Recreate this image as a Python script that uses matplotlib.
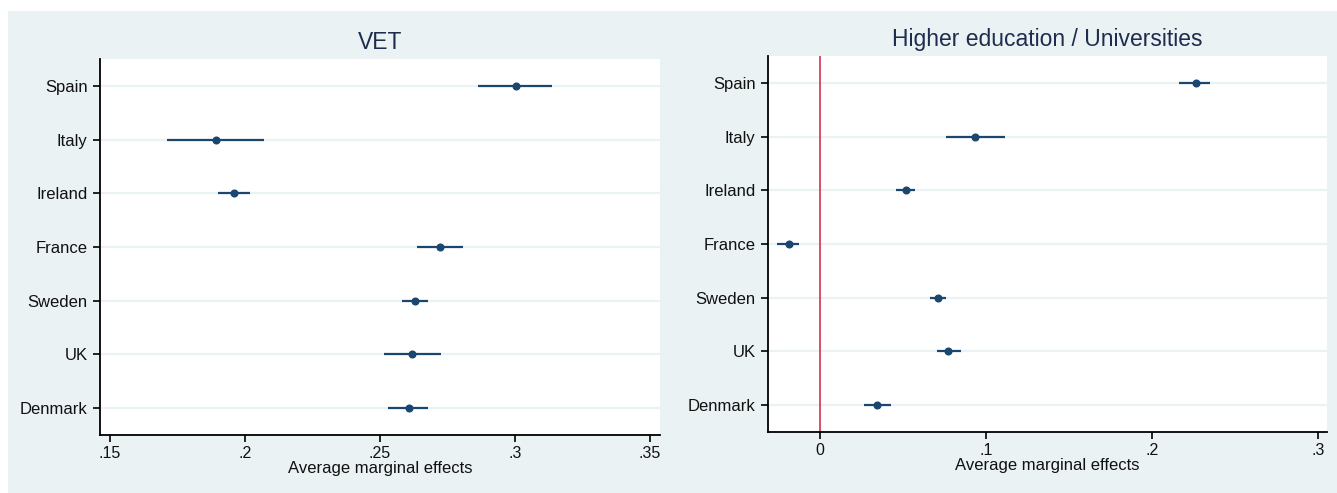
import matplotlib
matplotlib.use("Agg")
import matplotlib.pyplot as plt
from matplotlib.patches import Rectangle
import numpy as np

plt.rcParams['font.family'] = ['Liberation Sans', 'DejaVu Sans']

countries = ["Spain", "Italy", "Ireland", "France", "Sweden", "UK", "Denmark"]

vet_est = [0.3004, 0.1893, 0.1959, 0.2722, 0.2630, 0.2619, 0.2607]
vet_lo = [0.2863, 0.1711, 0.1900, 0.2637, 0.2581, 0.2515, 0.2530]
vet_hi = [0.3137, 0.2070, 0.2019, 0.2807, 0.2678, 0.2726, 0.2678]

he_est = [0.2264, 0.0932, 0.0517, -0.0185, 0.0713, 0.0772, 0.0345]
he_lo = [0.2165, 0.0758, 0.0458, -0.0257, 0.0664, 0.0705, 0.0267]
he_hi = [0.2351, 0.1113, 0.0574, -0.0129, 0.0762, 0.0847, 0.0425]

vet_ticks = [0.15, 0.2, 0.25, 0.3, 0.35]
vet_ticklabels = [".15", ".2", ".25", ".3", ".35"]
he_ticks = [0, 0.1, 0.2, 0.3]
he_ticklabels = ["0", ".1", ".2", ".3"]

BG = "#eaf2f3"
NAVY = "#1a476f"
RED = "#d6405f"


def draw_panel(ax, title, est, lo, hi, ticks, ticklabels, xlim, zero_line=False):
    n = len(countries)
    y = np.arange(n, 0, -1)
    for yy in y:
        ax.axhline(yy, color=BG, lw=1.6, zorder=0)
    if zero_line:
        ax.axvline(0, color=RED, lw=1.3, zorder=1)
    ax.hlines(y, lo, hi, color=NAVY, lw=1.6, zorder=2)
    ax.plot(est, y, "o", color=NAVY, ms=4.8, zorder=3)
    ax.set_ylim(0.5, n + 0.5)
    ax.set_xlim(*xlim)
    ax.set_yticks(y)
    ax.set_yticklabels(countries, fontsize=12, color="#111111")
    ax.set_xticks(ticks)
    ax.set_xticklabels(ticklabels, fontsize=11.5, color="#111111")
    ax.tick_params(axis="y", length=5, width=1.2, pad=4)
    ax.tick_params(axis="x", length=5, width=1.2, pad=3)
    for s in ["top", "right"]:
        ax.spines[s].set_visible(False)
    for s in ["left", "bottom"]:
        ax.spines[s].set_linewidth(1.3)
        ax.spines[s].set_color("black")
    ax.set_xlabel("Average marginal effects", fontsize=12, labelpad=0,
                  color="#111111")
    ax.set_title(title, fontsize=16.5, pad=7, color="#1e2d4f")
    ax.set_facecolor("white")


fig = plt.figure(figsize=(13.37, 4.93), dpi=100)
fig.patch.set_facecolor("white")
fig.patches.append(Rectangle((8 / 1337, 0), 1 - 8 / 1337, 1 - 11 / 493,
                             transform=fig.transFigure, facecolor=BG,
                             edgecolor="none", zorder=-1))

ax1 = fig.add_axes([100 / 1337, 1 - 435 / 493, 560 / 1337, 376 / 493])
ax2 = fig.add_axes([768 / 1337, 1 - 432 / 493, 559 / 1337, 376 / 493])

draw_panel(ax1, "VET", vet_est, vet_lo, vet_hi, vet_ticks, vet_ticklabels,
           (0.1463, 0.3537))
draw_panel(ax2, "Higher education / Universities", he_est, he_lo, he_hi,
           he_ticks, he_ticklabels, (-0.0313, 0.3054), zero_line=True)

fig.savefig("out.png", dpi=100, facecolor=fig.get_facecolor())
